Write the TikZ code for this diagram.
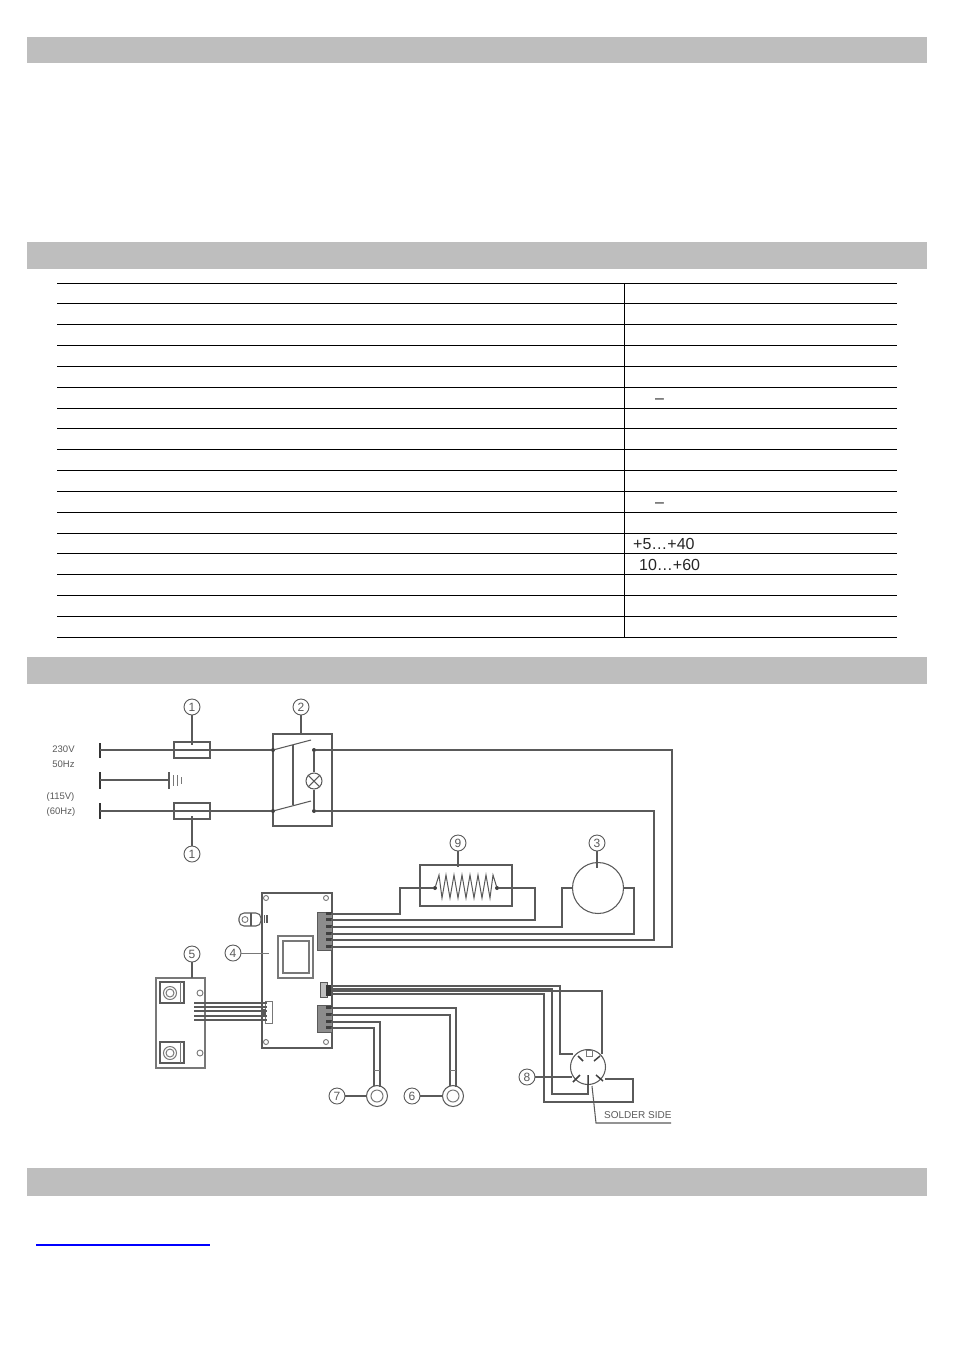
\documentclass[tikz,border=0pt]{standalone}
\usepackage{fontspec}
\setmainfont{Liberation Sans}
\definecolor{bar}{HTML}{BEBEBE}
\definecolor{ln}{HTML}{5A5A5A}
\definecolor{lnl}{HTML}{787878}
\begin{document}
\begin{tikzpicture}[x=1pt,y=-1pt,
  wire/.style={draw=ln,line width=1.05pt,line join=miter},
  thinw/.style={draw=lnl,line width=0.9pt},
  callout/.style={circle,draw=ln,line width=0.9pt,minimum size=16pt,inner sep=0pt,font=\fontsize{12}{12}\selectfont,text=ln},
  boxn/.style={rectangle,draw=ln,line width=1.05pt,inner sep=0pt},
  headbar/.style={fill=bar,draw=none},
  term/.style={draw=black!80,line width=2pt},
  dotn/.style={circle,fill=black!75,inner sep=0pt,minimum size=4pt},
  hole/.style={circle,draw=lnl,line width=0.9pt,inner sep=0pt,minimum size=5pt},
  conn/.style={rectangle,draw=ln,fill=black!45,line width=0.8pt,inner sep=0pt},
  lab/.style={font=\fontsize{9.5}{9.5}\selectfont,text=ln,inner sep=0pt},
  cell/.style={font=\fontsize{16}{16}\selectfont,anchor=west,inner sep=0pt,text=black!85},
  rowl/.style={draw=black,line width=1pt}]
\useasboundingbox (0,0) rectangle (954,1350);
\fill[white] (0,0) rectangle (954,1350);
% header bars
\foreach \a/\b in {37/63,242/269,657/684,1168/1196}{\fill[headbar] (27,\a) rectangle (927,\b);}
% table
\foreach \r in {283,303.5,324.5,345.5,366.5,387.5,408.5,428.5,449.5,470.5,491.5,512.5,533.5,553.5,574.5,595.5,616.5,637.5}{\draw[rowl] (57,\r) -- (897,\r);}
\draw[rowl] (624.5,283) -- (624.5,637.5);
\node[cell] at (655,401) {–};
\node[cell] at (655,505) {–};
\node[cell] at (633,544) {+5…+40};
\node[cell] at (639,565) {10…+60};
% link underline
\fill[blue] (36,1244) rectangle (210,1246);

% labels
\node[lab] at (63.5,749) {230V};
\node[lab] at (63.5,764) {50Hz};
\node[lab] at (60.5,797) {(115V)};
\node[lab] at (61,812) {(60Hz)};
% terminals
\coordinate (t1) at (100,750); \coordinate (t2) at (100,780); \coordinate (t3) at (100,811);
\draw[term] (100,743) -- (100,758) (100,772) -- (100,789) (100,803) -- (100,819);
% fuses
\node[boxn,minimum width=36pt,minimum height=16pt] (f1) at (192,750) {};
\node[boxn,minimum width=36pt,minimum height=16pt] (f2) at (192,811) {};
\node[callout] (c1a) at (192,707) {1};
\node[callout] (c1b) at (192,854) {1};
\draw[wire] (c1a) -- (192,745);
\draw[wire] (c1b) -- (192,816);
% ground
\coordinate (g) at (169,780);
\draw[wire] (t2) -- (g);
\draw[wire,line width=1.4pt] (169,772) -- (169,789);
\draw[thinw] (173,775) -- (173,786) (177,775) -- (177,786) (181,777) -- (181,784);
% switch box
\node[boxn,minimum width=59pt,minimum height=92pt] (sw) at (302.5,780) {};
\node[callout] (c2) at (301,707) {2};
\draw[wire] (c2) -- (301,734);
\coordinate (s1) at (273,750); \coordinate (s2) at (273,811);
\node[dotn] (d1) at (s1) {}; \node[dotn] (d2) at (s2) {};
\node[dotn] (d3) at (314,750) {}; \node[dotn] (d4) at (314,811) {};
\coordinate (b1) at (311,740); \coordinate (b2) at (311,801);
\draw[wire] (d1) -- (b1);
\draw[wire] (d2) -- (b2);
\draw[wire] (293,745) -- (293,804.5);
\node[circle,draw=ln,line width=1.05pt,minimum size=16pt,inner sep=0pt] (lamp) at (314,781) {};
\draw[wire] (d3) -- (lamp) (lamp) -- (d4);
\draw[wire] (lamp.north west) -- (lamp.south east) (lamp.north east) -- (lamp.south west);
\draw[wire] (t1) -- (d1);
\draw[wire] (t3) -- (d2);
% main board
\node[boxn,minimum width=70pt,minimum height=155pt] (board) at (297,970.5) {};
\foreach \x/\y in {266/898,326/898,266/1042,326/1042}{\node[hole] at (\x,\y) {};}
\draw[draw=lnl,line width=1.1pt] (278,936) rectangle (313,978) (283,941) rectangle (309,973);
\node[callout] (c4) at (233,953) {4};
\coordinate (c4e) at (269,953);
\draw[thinw] (c4) -- (c4e);
% sensor lug
\draw[wire,rounded corners=5pt] (261,913) -- (239,913) -- (239,926) -- (261,926) -- cycle;
\draw[wire] (251,913) -- (251,926);
\node[hole,minimum size=6pt] at (245,919.5) {};
\fill[ln] (261,915) rectangle (268,923);
\draw[white,line width=0.5pt] (263,915) -- (263,923) (265.5,915) -- (265.5,923);
% panel 5
\node[boxn,draw=lnl,minimum width=49pt,minimum height=90pt] (p5) at (180.5,1023) {};
\node[callout] (c5) at (192,954) {5};
\draw[wire] (c5) -- (192,978);
\foreach \y in {993,1053}{
  \draw[draw=ln,line width=1.05pt] (160,\y-11) rectangle (184,\y+10);
  \draw[draw=lnl,line width=0.9pt] (180,\y-11) -- (180,\y+10);
  \node[circle,draw=lnl,line width=1pt,minimum size=13pt,inner sep=0pt] at (170,\y) {};
  \node[circle,draw=lnl,line width=1pt,minimum size=8pt,inner sep=0pt] at (170,\y) {};
  \node[hole,minimum size=6pt] at (200,\y) {};
}
% connector of ribbon
\node[conn,fill=white,draw=lnl,minimum width=7pt,minimum height=22pt] (cr) at (268.5,1012) {};
\foreach \y in {1003,1007,1011,1016,1020}{\draw[wire] (194,\y) -- (267,\y);}
\fill[ln] (262,1009) rectangle (266,1016);
% board connectors
\node[conn,minimum width=15pt,minimum height=38pt] (ca) at (324.5,931) {};
\node[conn,fill=black!25,minimum width=7pt,minimum height=15pt] (cb) at (323.5,989.5) {};
\node[conn,minimum width=15pt,minimum height=27pt] (cc) at (324.5,1018.5) {};
\foreach \y in {914,920,927,934,940,947}{\fill[black!75] (326,\y-1.8) rectangle (331.5,\y+1.2);}
\foreach \y in {1008,1015,1022,1028}{\fill[black!75] (326,\y-1.8) rectangle (331.5,\y+1.2);}
\fill[black!80] (326,985) rectangle (331,996);
% heater
\node[boxn,minimum width=92pt,minimum height=41pt] (h) at (466,885.5) {};
\node[callout] (c9) at (458,843) {9};
\draw[wire] (c9) -- (458,867);
\node[dotn] (hl) at (435,888) {};
\node[dotn] (hr) at (497,888) {};
\draw[draw=ln,line width=1pt] (hl) -- (439,875) -- (442,898) -- (446,875) -- (450,898) -- (454,875) -- (458,898) -- (462,875) -- (466,898) -- (470,875) -- (474,898) -- (478,875) -- (482,898) -- (486,875) -- (490,898) -- (493,875) -- (hr);
\draw[wire] (hl) -- (400,888) -- (400,914) -- (331,914);
\draw[wire] (hr) -- (535,888) -- (535,920) -- (331,920);
% motor
\node[circle,draw=ln,line width=1.05pt,minimum size=51pt,inner sep=0pt] (m) at (598,888) {};
\node[callout] (c3) at (597,843) {3};
\draw[wire] (c3) -- (597,868);
\draw[wire] (m.west) -- (562,888) -- (562,927) -- (331,927);
\draw[wire] (m.east) -- (634,888) -- (634,934) -- (331,934);
% mains return wires
\draw[wire] (d4) -- (654,811) -- (654,940) -- (331,940);
\draw[wire] (d3) -- (672,750) -- (672,947) -- (331,947);
% socket 8
\node[circle,draw=ln,line width=1.05pt,minimum size=35pt,inner sep=0pt] (sk) at (588,1067) {};
\node[callout] (c8) at (527,1077) {8};
\draw[wire] (c8) -- (572,1077);
\draw[draw=lnl,line width=1pt] (586,1050) rectangle (592,1056);
\draw[draw=black!75,line width=1.5pt] (578,1056) -- (583,1061) (594,1061) -- (600,1056) (573,1082) -- (580,1075) (588,1075) -- (588,1085) (596,1075) -- (603,1081);
\draw[wire] (331,986) -- (560,986) -- (560,1054) -- (573,1054);
\draw[wire] (331,991) -- (602,991) -- (602,1054);
\draw[wire] (331,989) -- (552,989) -- (552,1094) -- (588,1094) -- (588,1085);
\draw[wire] (331,994) -- (544,994) -- (544,1102) -- (633,1102) -- (633,1079) -- (605,1079);
% rings
\node[circle,draw=ln,line width=1.05pt,minimum size=21pt,inner sep=0pt] (r7) at (377,1096) {};
\node[circle,draw=lnl,line width=1pt,minimum size=12pt,inner sep=0pt] at (377,1096) {};
\node[circle,draw=ln,line width=1.05pt,minimum size=21pt,inner sep=0pt] (r6) at (453,1096) {};
\node[circle,draw=lnl,line width=1pt,minimum size=12pt,inner sep=0pt] at (453,1096) {};
\node[callout] (c7) at (337,1096) {7};
\node[callout] (c6) at (412,1096) {6};
\draw[wire] (c7) -- (r7);
\draw[wire] (c6) -- (r6);
\draw[wire] (331,1022) -- (380,1022) -- (380,1087);
\draw[wire] (331,1028) -- (374,1028) -- (374,1086);
\draw[wire] (331,1008) -- (456,1008) -- (456,1087);
\draw[wire] (331,1015) -- (450,1015) -- (450,1086);
\draw[thinw] (374,1070) -- (380,1070) (450,1070) -- (456,1070);
% solder side
\node[lab,font=\fontsize{10}{10}\selectfont,anchor=west] (ss) at (604,1115) {SOLDER SIDE};
\coordinate (ssa) at (592,1086); \coordinate (ssb) at (596,1123); \coordinate (ssc) at (671,1123);
\draw[wire] (ssa) -- (ssb) -- (ssc);
\end{tikzpicture}
\end{document}
